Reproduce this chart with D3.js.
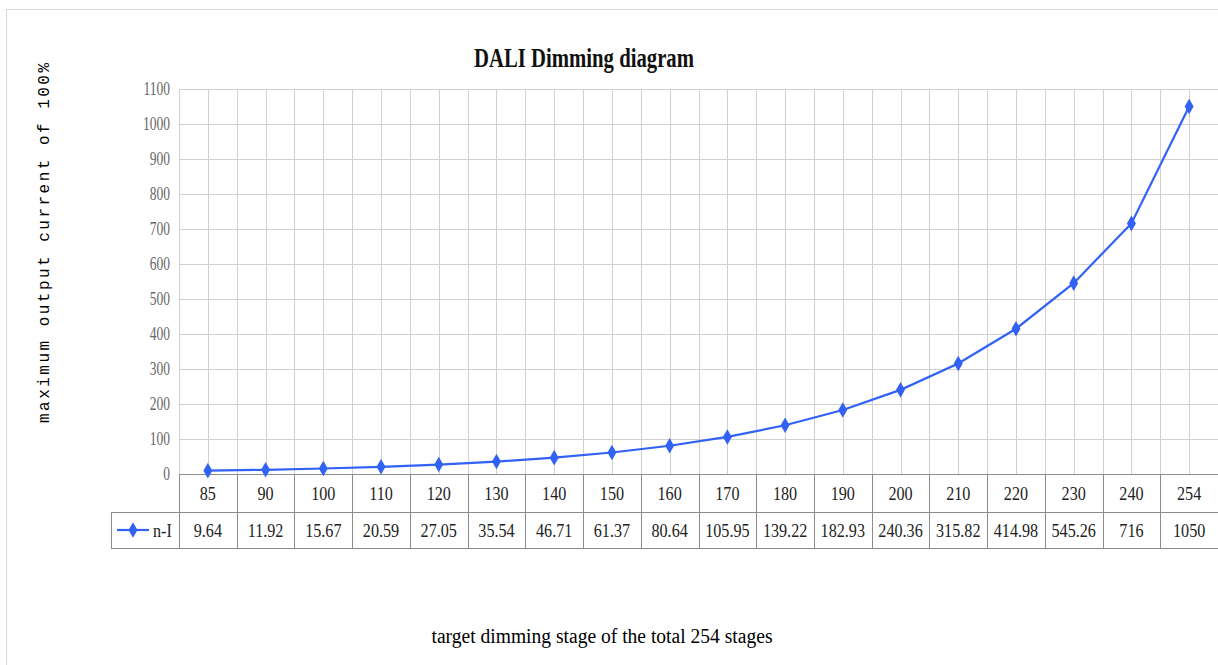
<!DOCTYPE html>
<html>
<head>
<meta charset="utf-8">
<script src="https://cdn.jsdelivr.net/npm/d3@7"></script>
<style>
  body { margin: 0; background: #fff; }
  svg { display: block; }
</style>
</head>
<body>
<div id="chart-area"></div>
<script>
// data
const stages = ["85","90","100","110","120","130","140","150","160","170","180","190","200","210","220","230","240","254"];
const current = [9.64,11.92,15.67,20.59,27.05,35.54,46.71,61.37,80.64,105.95,139.22,182.93,240.36,315.82,414.98,545.26,716,1050];
const currentLabels = ["9.64","11.92","15.67","20.59","27.05","35.54","46.71","61.37","80.64","105.95","139.22","182.93","240.36","315.82","414.98","545.26","716","1050"];
const yTicks = [0,100,200,300,400,500,600,700,800,900,1000,1100];
const seriesName = "n-I";

const full_width = 1218, full_height = 665;
const plot = { left:179, right:1218, top:89, bottom:474 };
const rowH1 = 38, rowH2 = 36, legendLeft = 111;

const blue = "#3162f5";
const serif = "'Liberation Serif', 'DejaVu Serif', serif";

const svg = d3.select("#chart-area")
    .append("svg")
    .attr("width", full_width)
    .attr("height", full_height);

// outer frame
svg.append("rect")
    .attr("x", 6.5).attr("y", 9.5)
    .attr("width", 1230).attr("height", 670)
    .attr("fill", "none")
    .attr("stroke", "#d9d9d9");

const x = d3.scaleBand()
    .domain(stages)
    .range([plot.left, plot.right]);

const y = d3.scaleLinear()
    .domain([0, 1100])
    .range([plot.bottom, plot.top]);

// condensed text helper
function ctext(g, tx, ty, str, size, anchor, color, sx) {
    return g.append("text")
        .attr("transform", "translate(" + tx + "," + ty + ") scale(" + (sx || 0.85) + ",1)")
        .attr("font-family", serif)
        .attr("font-size", size)
        .attr("text-anchor", anchor)
        .attr("fill", color)
        .text(str);
}

// grid
const grid = svg.append("g");
grid.selectAll("line.h")
    .data(yTicks.filter(d => d > 0))
    .enter().append("line")
    .attr("x1", plot.left).attr("x2", plot.right)
    .attr("y1", d => Math.round(y(d)) + 0.5).attr("y2", d => Math.round(y(d)) + 0.5)
    .attr("stroke", "#d0d0d0");

const vLines = [];
stages.forEach(s => {
    vLines.push(x(s));
    vLines.push(x(s) + x.bandwidth() / 2);
});
vLines.push(plot.right);
grid.selectAll("line.v")
    .data(vLines)
    .enter().append("line")
    .attr("x1", d => Math.round(d) + 0.5).attr("x2", d => Math.round(d) + 0.5)
    .attr("y1", plot.top).attr("y2", plot.bottom)
    .attr("stroke", "#d0d0d0");

// y tick labels
yTicks.forEach(t => {
    ctext(svg, 170, y(t) + 6, t, 18, "end", "#666", 0.75);
});

// data table
const tbl = svg.append("g").attr("stroke", "#8c8c8c").attr("fill", "none");
const r0 = plot.bottom, r1 = plot.bottom + rowH1, r2 = r1 + rowH2;
tbl.append("line").attr("x1", plot.left).attr("x2", plot.right).attr("y1", r0 + 0.5).attr("y2", r0 + 0.5);
tbl.append("line").attr("x1", legendLeft).attr("x2", plot.right).attr("y1", r1 + 0.5).attr("y2", r1 + 0.5);
tbl.append("line").attr("x1", legendLeft).attr("x2", plot.right).attr("y1", r2 + 0.5).attr("y2", r2 + 0.5);
tbl.append("line").attr("x1", legendLeft + 0.5).attr("x2", legendLeft + 0.5).attr("y1", r1).attr("y2", r2);
tbl.selectAll("line.c")
    .data(stages.map(s => x(s)).concat([plot.right - 0.5]))
    .enter().append("line")
    .attr("x1", d => Math.round(d) + 0.5).attr("x2", d => Math.round(d) + 0.5)
    .attr("y1", r0).attr("y2", r2);

stages.forEach((s, i) => {
    const cx = x(s) + x.bandwidth() / 2;
    ctext(svg, cx, r0 + 26, s, 19, "middle", "#222", 0.85);
    ctext(svg, cx, r1 + 25, currentLabels[i], 19, "middle", "#222", 0.85);
});

// legend
const diamond = d3.symbol().type(d3.symbolDiamond).size(70);
svg.append("line")
    .attr("x1", 117).attr("x2", 149)
    .attr("y1", r1 + 18).attr("y2", r1 + 18)
    .attr("stroke", blue).attr("stroke-width", 2.2);
svg.append("path")
    .attr("d", diamond)
    .attr("transform", "translate(133," + (r1 + 18) + ")")
    .attr("fill", blue);
ctext(svg, 153, r1 + 25, seriesName, 19, "start", "#222", 0.85);

// series
const line = d3.line()
    .x((d, i) => x(stages[i]) + x.bandwidth() / 2)
    .y(d => y(d));

svg.append("path")
    .datum(current)
    .attr("d", line)
    .attr("fill", "none")
    .attr("stroke", blue)
    .attr("stroke-width", 2.2);

svg.selectAll("path.pt")
    .data(current)
    .enter().append("path")
    .attr("class", "pt")
    .attr("d", diamond)
    .attr("transform", (d, i) => "translate(" + (x(stages[i]) + x.bandwidth() / 2) + "," + y(d) + ")")
    .attr("fill", blue);

// titles
svg.append("text")
    .attr("x", 584).attr("y", 67)
    .attr("font-family", serif)
    .attr("font-size", 27)
    .attr("font-weight", "bold")
    .attr("text-anchor", "middle")
    .attr("textLength", 220)
    .attr("lengthAdjust", "spacingAndGlyphs")
    .attr("fill", "#111")
    .text("DALI Dimming diagram");

svg.append("text")
    .attr("x", 602).attr("y", 643)
    .attr("font-family", serif)
    .attr("font-size", 20)
    .attr("text-anchor", "middle")
    .attr("textLength", 341)
    .attr("lengthAdjust", "spacingAndGlyphs")
    .attr("fill", "#000")
    .text("target dimming stage of the total 254 stages");

svg.append("text")
    .attr("transform", "translate(49,243) rotate(-90)")
    .attr("font-family", "'Liberation Mono', 'DejaVu Sans Mono', monospace")
    .attr("font-size", 16)
    .attr("text-anchor", "middle")
    .attr("textLength", 360)
    .attr("lengthAdjust", "spacing")
    .attr("fill", "#000")
    .text("maximum output current of 100%");
</script>
</body>
</html>
